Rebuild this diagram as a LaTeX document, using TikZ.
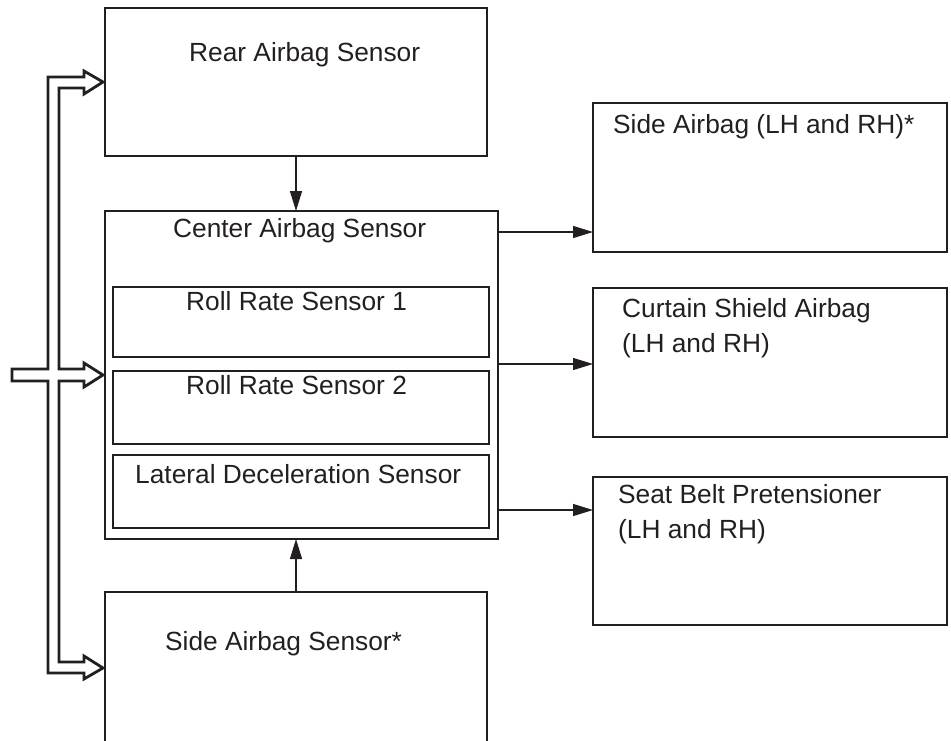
\documentclass[tikz,border=0pt]{standalone}
\usepackage{fontspec}
\setmainfont{Liberation Sans}
\usetikzlibrary{arrows.meta,positioning}
\definecolor{ink}{RGB}{35,31,32}
\begin{document}
\begin{tikzpicture}[x=1pt,y=-1pt,
                    box/.style = {shape = rectangle,
                                  draw = ink,
                                  line width = 2.8pt,
                                  outer sep = 0pt,
                                  inner sep = 0pt},
                    lbl/.style = {anchor = base west,
                                  inner sep = 0pt,
                                  align = left,
                                  text = ink,
                                  font = \fontsize{26.3}{35}\selectfont},
                    conn/.style = {draw = ink,
                                   line width = 1.3pt,
                                   -{Triangle[length=20pt,width=12pt]}},
                    hollow/.style = {draw = ink,
                                     fill = white,
                                     line width = 2.8pt,
                                     line join = miter}]
	\useasboundingbox (0,0) rectangle (951,740);

	% sensors on the left
	\node[box, minimum width = 382pt, minimum height = 148pt] (rear) at (296,82) {};
	\node[box, minimum width = 393pt, minimum height = 328pt] (center) at (301.5,375) {};
	\node[box, minimum width = 376pt, minimum height = 70pt] (roll1) at (301,322) {};
	\node[box, minimum width = 376pt, minimum height = 73pt] (roll2) at (301,407.5) {};
	\node[box, minimum width = 376pt, minimum height = 73pt] (lateral) at (301,491.5) {};
	\node[box, minimum width = 382pt, minimum height = 152pt] (sidesens) at (296,668) {};

	% airbags on the right
	\node[box, minimum width = 354pt, minimum height = 149pt] (sidebag) at (770,177.5) {};
	\node[box, minimum width = 354pt, minimum height = 149pt] (curtain) at (770,362.5) {};
	\node[box, minimum width = 354pt, minimum height = 148pt] (belt) at (770,551) {};

	% texts (base of a two line text is its last line)
	\node[lbl] (rearT) at ([shift={(84,53)}]rear.north west) {Rear Airbag Sensor};
	\node[lbl] (centerT) at ([shift={(68,26)}]center.north west) {Center Airbag Sensor};
	\node[lbl] (roll1T) at ([shift={(73,23)}]roll1.north west) {Roll Rate Sensor 1};
	\node[lbl] (roll2T) at ([shift={(73,23)}]roll2.north west) {Roll Rate Sensor 2};
	\node[lbl] (lateralT) at ([shift={(22,28)}]lateral.north west) {Lateral Deceleration Sensor};
	\node[lbl] (sidesensT) at ([shift={(60,58)}]sidesens.north west) {Side Airbag Sensor*};
	\node[lbl] (sidebagT) at ([shift={(20,30)}]sidebag.north west) {Side Airbag (LH and RH)*};
	\node[lbl] (curtainT) at ([shift={(29,64)}]curtain.north west) {Curtain Shield Airbag\\(LH and RH)};
	\node[lbl] (beltT) at ([shift={(25,61)}]belt.north west) {Seat Belt Pretensioner\\(LH and RH)};

	% signal lines
	\draw[conn] (rear.south) -- (rear.south |- center.north);
	\draw[conn] (sidesens.north) -- (sidesens.north |- center.south);
	\draw[conn] ([yshift=-21pt]center.north east) -- ([yshift=-21pt]center.north east -| sidebag.west);
	\draw[conn] ([yshift=11pt]center.east) -- ([yshift=11pt]center.east -| curtain.west);
	\draw[conn] ([yshift=-135pt]center.east) -- ([yshift=-135pt]center.east -| belt.west);

	% hollow bus arrow
	\draw[hollow] ([xshift=-2pt]rear.west) -- (84,71) -- (84,77) -- (48,77) -- (48,369)
		-- (12,369) -- (12,381) -- (48,381) -- (48,673) -- (84,673) -- (84,679)
		-- ([xshift=-2pt]sidesens.west) -- (84,656) -- (84,662) -- (59,662) -- (59,381)
		-- (84,381) -- (84,387) -- ([xshift=-2pt]center.west) -- (84,363) -- (84,369)
		-- (59,369) -- (59,88) -- (84,88) -- (84,94) -- cycle;
\end{tikzpicture}
\end{document}
